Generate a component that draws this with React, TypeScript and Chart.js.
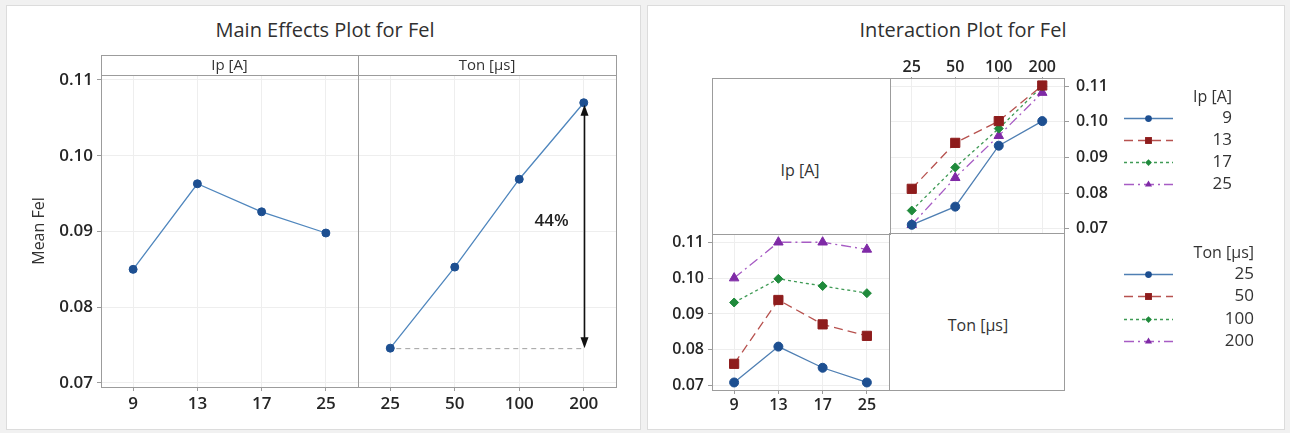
import React, { useEffect, useRef } from 'react';
import { Chart, registerables } from 'chart.js';

Chart.register(...registerables);

// ---------- DATA ----------
const ipLevels = ['9', '13', '17', '25'];
const tonLevels = ['25', '50', '100', '200'];
const mainIp = [0.0850, 0.0963, 0.0926, 0.0898];
const mainTon = [0.0746, 0.0853, 0.0969, 0.1070];
const yTickValues = [0.07, 0.08, 0.09, 0.10, 0.11];
const effectLabel = '44%';

// Interaction: Ip series plotted over Ton levels (top-right cell)
const ip9 = [0.0711, 0.0762, 0.0933, 0.1002];
const ip13 = [0.0812, 0.0941, 0.1002, 0.1102];
const ip17 = [0.0751, 0.0872, 0.0981, 0.1100];
const ip25 = [0.0711, 0.0843, 0.0961, 0.1082];
// Interaction: Ton series plotted over Ip levels (bottom-left cell)
const ton25 = [0.0709, 0.0809, 0.0750, 0.0709];
const ton50 = [0.0761, 0.0939, 0.0871, 0.0839];
const ton100 = [0.0932, 0.0998, 0.0978, 0.0958];
const ton200 = [0.1000, 0.1100, 0.1100, 0.1080];

const ipSeries = [ip9, ip13, ip17, ip25];
const tonSeries = [ton25, ton50, ton100, ton200];

// ---------- STYLE ----------
const FONT = "'Open Sans', 'Noto Sans', sans-serif";
const TEXT = '#262626';
const GRID = '#eeeeee';
const FRAME = '#9c9c9c';
const seriesStyles = [
  { line: '#4f7fb3', mark: '#1d4f91', dash: [] as number[], point: 'circle', r: 4.5 },
  { line: '#b7524f', mark: '#8e1c1c', dash: [9, 5], point: 'rect', r: 6.5 },
  { line: '#3f9a55', mark: '#1f8a3b', dash: [3, 3], point: 'rectRot', r: 4.5 },
  { line: '#a75cc4', mark: '#7f2aa6', dash: [10, 4, 2, 4], point: 'triangle', r: 5.5 },
];

Chart.defaults.font.family = FONT;

const px = (v: number) => Math.round(v) + 0.5;

const framePlugin = {
  id: 'frame',
  afterDraw(chart: any, _a: any, opts: any) {
    const { ctx, chartArea: a } = chart;
    ctx.save();
    ctx.strokeStyle = FRAME;
    ctx.lineWidth = 1;
    const l = px(a.left), t = px(a.top), r = px(a.right), b = px(a.bottom);
    ctx.strokeRect(l, t, r - l, b - t);
    if (opts && opts.strip) {
      const st = px(opts.stripTop);
      ctx.fillStyle = '#ffffff';
      ctx.fillRect(l, st, r - l, t - st);
      ctx.strokeRect(l, st, r - l, t - st);
      ctx.fillStyle = '#333';
      ctx.font = `15px ${FONT}`;
      ctx.textAlign = 'center';
      ctx.textBaseline = 'middle';
      ctx.fillText(opts.strip, (a.left + a.right) / 2, (opts.stripTop + a.top) / 2 + 1);
    }
    ctx.restore();
  },
};

const effectPlugin = {
  id: 'effect',
  afterDatasetsDraw(chart: any) {
    const { ctx } = chart;
    const x = chart.scales.x, y = chart.scales.y;
    const data = chart.data.datasets[0].data as number[];
    const n = data.length - 1;
    const xs = x.getPixelForValue(0);
    const xe = Math.round(x.getPixelForValue(n)) + 0.5;
    const yLow = y.getPixelForValue(data[0]);
    const yHigh = y.getPixelForValue(data[n]);
    ctx.save();
    ctx.strokeStyle = '#a0a0a0';
    ctx.lineWidth = 1;
    ctx.setLineDash([5, 4]);
    ctx.beginPath();
    ctx.moveTo(xs + 6, yLow + 0.5);
    ctx.lineTo(xe, yLow + 0.5);
    ctx.stroke();
    ctx.setLineDash([]);
    ctx.strokeStyle = '#111';
    ctx.fillStyle = '#111';
    ctx.lineWidth = 1.6;
    ctx.beginPath();
    ctx.moveTo(xe, yHigh + 8);
    ctx.lineTo(xe, yLow - 8);
    ctx.stroke();
    ctx.beginPath();
    ctx.moveTo(xe, yLow);
    ctx.lineTo(xe - 4, yLow - 11);
    ctx.lineTo(xe + 4, yLow - 11);
    ctx.closePath();
    ctx.fill();
    ctx.beginPath();
    ctx.moveTo(xe, yHigh + 2);
    ctx.lineTo(xe - 4, yHigh + 13);
    ctx.lineTo(xe + 4, yHigh + 13);
    ctx.closePath();
    ctx.fill();
    ctx.fillStyle = '#222';
    ctx.font = `600 17px ${FONT}`;
    ctx.textAlign = 'center';
    ctx.textBaseline = 'middle';
    ctx.fillText(effectLabel, xe - 33, (yHigh + yLow) / 2 - 4);
    ctx.restore();
  },
};

function drawMarker(ctx: CanvasRenderingContext2D, style: string, x: number, y: number, r: number) {
  ctx.beginPath();
  if (style === 'circle') {
    ctx.arc(x, y, r, 0, Math.PI * 2);
  } else if (style === 'rect') {
    const s = r * Math.SQRT1_2;
    ctx.rect(x - s, y - s, 2 * s, 2 * s);
  } else if (style === 'rectRot') {
    ctx.moveTo(x, y - r);
    ctx.lineTo(x + r, y);
    ctx.lineTo(x, y + r);
    ctx.lineTo(x - r, y);
    ctx.closePath();
  } else {
    ctx.moveTo(x, y - r);
    ctx.lineTo(x + r * 0.866, y + r * 0.5);
    ctx.lineTo(x - r * 0.866, y + r * 0.5);
    ctx.closePath();
  }
  ctx.fill();
}

const keyPlugin = {
  id: 'seriesKey',
  afterDraw(chart: any, _a: any, o: any) {
    if (!o || !o.title) return;
    const { ctx } = chart;
    ctx.save();
    ctx.fillStyle = '#333';
    ctx.textAlign = 'right';
    ctx.textBaseline = 'middle';
    ctx.font = `16px ${FONT}`;
    ctx.fillText(o.title, o.textRight, o.titleY);
    chart.data.datasets.forEach((ds: any, i: number) => {
      const y = Math.round(o.titleY + o.firstGap + i * o.rowGap) + 0.5;
      ctx.strokeStyle = ds.borderColor;
      ctx.lineWidth = 1.3;
      ctx.setLineDash(ds.borderDash || []);
      ctx.beginPath();
      ctx.moveTo(o.x0, y);
      ctx.lineTo(o.x1, y);
      ctx.stroke();
      ctx.setLineDash([]);
      ctx.fillStyle = ds.pointBackgroundColor;
      drawMarker(ctx, ds.pointStyle, (o.x0 + o.x1) / 2, y, ds.pointRadius * 0.75);
      ctx.fillStyle = '#333';
      ctx.font = `17px ${FONT}`;
      ctx.fillText(ds.label, o.textRight, y);
    });
    ctx.restore();
  },
};

const tickFont = (size: number) => ({ family: FONT, size, weight: '600' as any });

const zeroPad = (s: any) => {
  s.paddingLeft = 0;
  s.paddingRight = 0;
  s.paddingTop = 0;
  s.paddingBottom = 0;
};

function yAxis(min: number, max: number, opts: any) {
  return {
    min,
    max,
    position: opts.position || 'left',
    afterBuildTicks: (s: any) => {
      s.ticks = yTickValues.map((v) => ({ value: v }));
    },
    afterFit: (s: any) => {
      s.width = opts.width;
      zeroPad(s);
    },
    ticks: {
      display: opts.labels !== false,
      callback: (v: any) => Number(v).toFixed(2),
      font: tickFont(opts.fontSize || 17),
      color: TEXT,
      padding: opts.padding ?? 4,
    },
    grid: {
      color: GRID,
      tickColor: FRAME,
      tickLength: opts.tickLength ?? 4,
      drawTicks: opts.labels !== false,
    },
    border: { display: false },
    title: opts.title
      ? { display: true, text: opts.title, font: { family: FONT, size: 16 }, color: '#333', padding: { top: 4, bottom: 4 } }
      : { display: false },
  };
}

function xAxis(labels: string[], opts: any) {
  return {
    type: 'category' as const,
    labels,
    position: opts.position || 'bottom',
    offset: true,
    afterFit: (s: any) => {
      s.height = opts.height;
      zeroPad(s);
    },
    ticks: { font: tickFont(opts.fontSize || 17), color: TEXT, padding: opts.padding ?? 3, maxRotation: 0, autoSkip: false },
    grid: { color: GRID, offset: false, tickColor: FRAME, tickLength: opts.tickLength ?? 4 },
    border: { display: false },
  };
}

function mainDataset(values: number[]) {
  return {
    data: values,
    borderColor: '#4f86bd',
    borderWidth: 1.3,
    pointRadius: 4,
    pointBackgroundColor: '#1d4f91',
    pointBorderColor: '#1d4f91',
    pointBorderWidth: 1,
    tension: 0,
  };
}

function seriesDatasets(series: number[][], labels: string[]) {
  return series.map((vals, i) => {
    const st = seriesStyles[i];
    return {
      label: labels[i],
      data: vals,
      borderColor: st.line,
      borderDash: st.dash,
      borderWidth: 1.3,
      pointStyle: st.point,
      pointRadius: st.r,
      pointBackgroundColor: st.mark,
      pointBorderColor: st.mark,
      pointBorderWidth: 1,
      tension: 0,
    };
  });
}

const baseOpts = {
  responsive: false,
  animation: false as const,
  events: [] as any[],
};

const MAIN_MIN = 0.06947;
const MAIN_MAX = 0.11066;
const INT_MIN = 0.0688;
const INT_MAX = 0.1123;

export default function App() {
  const refA = useRef<HTMLCanvasElement>(null);
  const refB = useRef<HTMLCanvasElement>(null);
  const refC = useRef<HTMLCanvasElement>(null);
  const refD = useRef<HTMLCanvasElement>(null);

  useEffect(() => {
    const charts: Chart[] = [];
    charts.push(
      new Chart(refA.current!, {
        type: 'line',
        data: { labels: ipLevels, datasets: [mainDataset(mainIp)] as any },
        options: {
          ...baseOpts,
          layout: { autoPadding: false, padding: { left: 26, top: 75, right: 0, bottom: 0 } },
          plugins: { legend: { display: false }, tooltip: { enabled: false }, frame: { strip: 'Ip [A]', stripTop: 55 } } as any,
          scales: {
            x: xAxis(ipLevels, { height: 46 }) as any,
            y: yAxis(MAIN_MIN, MAIN_MAX, { width: 75, title: 'Mean Fel' }) as any,
          },
        },
        plugins: [framePlugin],
      })
    );
    charts.push(
      new Chart(refB.current!, {
        type: 'line',
        data: { labels: tonLevels, datasets: [mainDataset(mainTon)] as any },
        options: {
          ...baseOpts,
          layout: { autoPadding: false, padding: { left: 0, top: 75, right: 24, bottom: 0 } },
          plugins: { legend: { display: false }, tooltip: { enabled: false }, frame: { strip: 'Ton [µs]', stripTop: 55 } } as any,
          scales: {
            x: xAxis(tonLevels, { height: 46 }) as any,
            y: yAxis(MAIN_MIN, MAIN_MAX, { width: 0, labels: false }) as any,
          },
        },
        plugins: [framePlugin, effectPlugin],
      })
    );
    charts.push(
      new Chart(refC.current!, {
        type: 'line',
        data: { labels: tonLevels, datasets: seriesDatasets(ipSeries, ipLevels) as any },
        options: {
          ...baseOpts,
          layout: { autoPadding: false, padding: { left: 10, top: 0, right: 171, bottom: 137 } },
          plugins: {
            legend: { display: false },
            tooltip: { enabled: false },
            frame: {},
            seriesKey: { title: 'Ip [A]', textRight: 352, titleY: 57, firstGap: 20.5, rowGap: 22.3, x0: 244, x1: 293 },
          } as any,
          scales: {
            x: xAxis(tonLevels, { height: 38, position: 'top', fontSize: 16, tickLength: 1, padding: 0 }) as any,
            y: yAxis(INT_MIN, INT_MAX, { width: 50, position: 'right', fontSize: 16, tickLength: 5, padding: 7 }) as any,
          },
        },
        plugins: [framePlugin, keyPlugin],
      })
    );
    charts.push(
      new Chart(refD.current!, {
        type: 'line',
        data: { labels: ipLevels, datasets: seriesDatasets(tonSeries, tonLevels) as any },
        options: {
          ...baseOpts,
          layout: { autoPadding: false, padding: { left: 0, top: 14, right: 401, bottom: 0 } },
          plugins: {
            legend: { display: false },
            tooltip: { enabled: false },
            frame: {},
            seriesKey: { title: 'Ton [µs]', textRight: 604, titleY: 33, firstGap: 20.5, rowGap: 22.5, x0: 474, x1: 523 },
          } as any,
          scales: {
            x: xAxis(ipLevels, { height: 43, fontSize: 16, tickLength: 4, padding: 2 }) as any,
            y: yAxis(INT_MIN, INT_MAX, { width: 62, fontSize: 16, tickLength: 4, padding: 4 }) as any,
          },
        },
        plugins: [framePlugin, keyPlugin],
      })
    );
    return () => charts.forEach((c) => c.destroy());
  }, []);

  const abs = (left: number, top: number, width: number, height: number): React.CSSProperties => ({
    position: 'absolute',
    left,
    top,
    width,
    height,
  });

  const titleStyle = (cx: number): React.CSSProperties => ({
    ...abs(cx - 250, 16, 500, 28),
    textAlign: 'center',
    fontSize: 20,
    lineHeight: '28px',
    color: '#303030',
    fontFamily: FONT,
  });

  const cellLabel = (cx: number, cy: number, text: string) => (
    <div
      style={{
        ...abs(cx - 80, cy - 12, 160, 24),
        textAlign: 'center',
        fontSize: 16,
        lineHeight: '24px',
        color: '#333',
        fontFamily: FONT,
      }}
    >
      {text}
    </div>
  );

  return (
    <div
      style={{
        position: 'fixed',
        left: 0,
        top: 0,
        width: 1290,
        height: 433,
        background: '#f1f1f1',
        overflow: 'hidden',
        fontFamily: FONT,
      }}
    >
      <div style={{ ...abs(6, 5, 635, 425), background: '#fff', border: '1px solid #dcdcdc', boxSizing: 'border-box' }} />
      <div style={{ ...abs(647, 5, 638, 425), background: '#fff', border: '1px solid #dcdcdc', boxSizing: 'border-box' }} />
      <div style={titleStyle(325)}>Main Effects Plot for Fel</div>
      <div style={titleStyle(963)}>Interaction Plot for Fel</div>
      <div style={{ ...abs(712, 78, 179, 157), border: `1px solid ${FRAME}`, boxSizing: 'border-box' }} />
      <div style={{ ...abs(889, 233, 176, 158), border: `1px solid ${FRAME}`, boxSizing: 'border-box' }} />
      {cellLabel(800, 170, 'Ip [A]')}
      {cellLabel(978, 325, 'Ton [µs]')}
      <canvas ref={refA} width={358} height={433} style={abs(0, 0, 358, 433)} />
      <canvas ref={refB} width={282} height={433} style={abs(358, 0, 282, 433)} />
      <canvas ref={refC} width={405} height={330} style={abs(880, 40, 405, 330)} />
      <canvas ref={refD} width={640} height={213} style={abs(650, 220, 640, 213)} />
    </div>
  );
}
